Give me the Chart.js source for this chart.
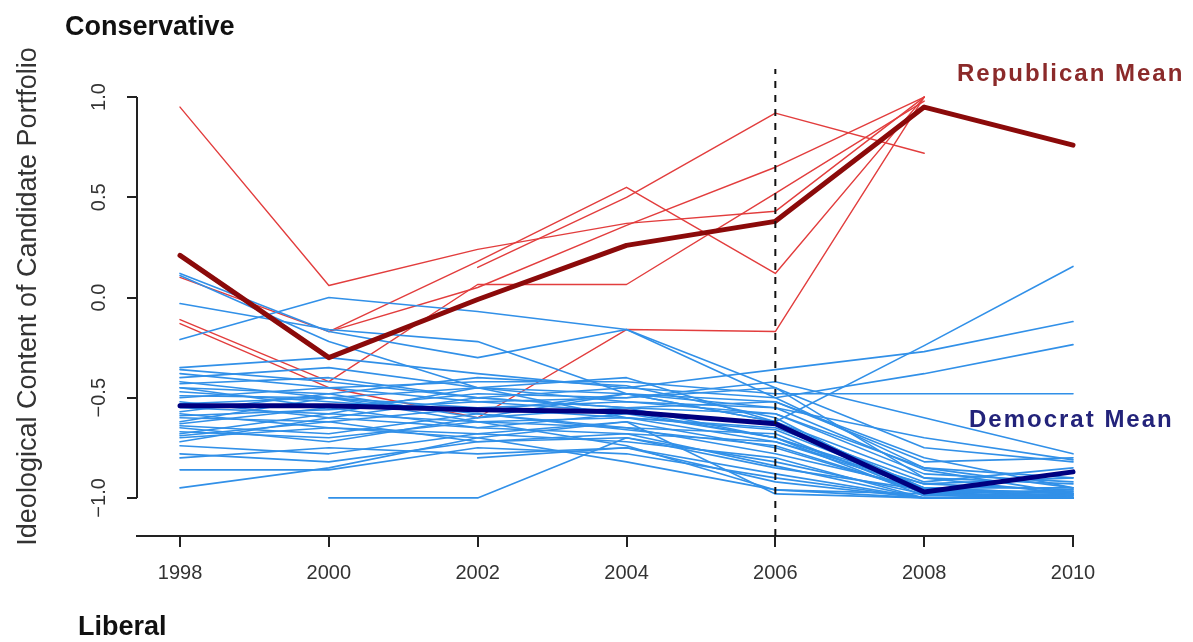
<!DOCTYPE html>
<html>
<head>
<meta charset="utf-8">
<script src="https://cdn.jsdelivr.net/npm/chart.js@4.4.1/dist/chart.umd.min.js"></script>
<style>
html,body{margin:0;padding:0;background:#fff;}
canvas{display:block;}
</style>
</head>
<body>
<canvas id="c" width="1193" height="642"></canvas>
<script>
// ---------- data ----------
const years = [1998, 2000, 2002, 2004, 2006, 2008, 2010];
const xTickValues = [1998, 2000, 2002, 2004, 2006, 2008, 2010];
const yTickValues = [-1, -0.5, 0, 0.5, 1];
const republicanMean = [0.21, -0.30, -0.01, 0.26, 0.38, 0.95, 0.76];
const democratMean = [-0.54, -0.54, -0.56, -0.57, -0.63, -0.97, -0.87];
const republicanCandidates = [
  [0.95, 0.06, 0.24, 0.37, 0.43, 1.00, null],
  [0.10, -0.17, 0.05, 0.36, 0.65, 1.00, null],
  [-0.11, -0.42, 0.065, 0.065, 0.52, 0.98, null],
  [-0.13, -0.45, -0.60, -0.16, -0.17, 1.00, null],
  [null, -0.17, 0.18, 0.55, 0.12, 1.00, null],
  [null, null, 0.15, 0.50, 0.92, 0.72, null]
];
const democratCandidates = [
  [0.12, -0.17, -0.30, -0.16, -0.45, -0.90, -0.98],
  [-0.21, 0.00, -0.07, -0.16, -0.50, -0.85, -0.95],
  [0.11, -0.22, -0.45, -0.60, -0.72, -0.95, -1.00],
  [-0.03, -0.16, -0.22, -0.48, -0.62, -0.95, -0.98],
  [-0.35, -0.30, -0.38, -0.45, -0.36, -0.27, -0.12],
  [-0.38, -0.45, -0.42, -0.42, -0.48, -0.48, -0.48],
  [-0.43, -0.40, -0.50, -0.45, -0.50, -0.38, -0.235],
  [-0.40, -0.35, -0.45, -0.40, -0.62, -0.24, 0.155],
  [-0.45, -0.55, -0.48, -0.50, -0.42, -0.60, -0.78],
  [-0.49, -0.50, -0.55, -0.52, -0.55, -0.70, -0.81],
  [-0.52, -0.60, -0.50, -0.55, -0.58, -0.85, -0.90],
  [-0.57, -0.48, -0.60, -0.48, -0.62, -0.90, -0.93],
  [-0.60, -0.62, -0.55, -0.60, -0.65, -0.92, -0.85],
  [-0.63, -0.55, -0.65, -0.58, -0.70, -0.95, -0.95],
  [-0.67, -0.70, -0.62, -0.65, -0.68, -0.98, -1.00],
  [-0.70, -0.65, -0.70, -0.62, -0.75, -0.97, -0.97],
  [-0.74, -0.78, -0.68, -0.72, -0.80, -1.00, -1.00],
  [-0.78, -0.82, -0.72, -0.70, -0.85, -0.96, -0.99],
  [-0.86, -0.86, -0.75, -0.78, -0.90, -1.00, -1.00],
  [-0.95, -0.85, -0.70, -0.82, -0.96, -1.00, -0.98],
  [null, -1.00, -1.00, -0.70, -0.82, -0.98, -0.96],
  [null, null, -0.80, -0.75, -0.88, -1.00, -1.00],
  [-0.50, -0.45, -0.52, -0.50, -0.45, -0.75, -0.82],
  [-0.55, -0.58, -0.45, -0.52, -0.58, -0.88, -0.92],
  [-0.62, -0.50, -0.58, -0.65, -0.78, -0.95, -0.98],
  [-0.65, -0.72, -0.60, -0.55, -0.52, -0.82, -0.80],
  [-0.72, -0.60, -0.65, -0.68, -0.72, -0.93, -0.90],
  [-0.80, -0.75, -0.78, -0.75, -0.92, -1.00, -1.00],
  [-0.45, -0.48, -0.40, -0.44, -0.60, -0.98, -0.99],
  [-0.58, -0.65, -0.68, -0.62, -0.98, -1.00, -1.00],
  [-0.68, -0.58, -0.62, -0.74, -0.96, -0.98, -1.00],
  [-0.42, -0.50, -0.45, -0.48, -0.52, -0.80, -0.95],
  [-0.47, -0.52, -0.57, -0.48, -0.55, -0.86, -0.98],
  [-0.53, -0.50, -0.62, -0.60, -0.66, -0.95, -1.00],
  [-0.59, -0.56, -0.52, -0.57, -0.70, -0.99, -0.97],
  [-0.64, -0.68, -0.58, -0.66, -0.74, -0.97, -1.00],
  [-0.69, -0.62, -0.72, -0.68, -0.84, -1.00, -0.99],
  [-0.36, -0.42, -0.50, -0.55, -0.70, -0.93, -0.96]
];
const cutoffYear = 2006;
const cutoffSpan = [-1.19, 1.14];

const topLabel = 'Conservative';
const bottomLabel = 'Liberal';
const yAxisTitle = 'Ideological Content of Candidate Portfolio';
const republicanLabel = 'Republican Mean';
const democratLabel = 'Democrat Mean';

// ---------- build ----------
const FONT = '"Liberation Sans", Arial, Helvetica, sans-serif';
const toPoints = arr => years.map((yr, i) => ({x: yr, y: arr[i]}));

function lineSet(arr, color, width, order) {
  return {
    data: toPoints(arr), borderColor: color, borderWidth: width,
    pointRadius: 0, tension: 0, fill: false, order: order,
    borderCapStyle: 'round', borderJoinStyle: 'round', spanGaps: false, clip: false
  };
}

const datasets = [];
datasets.push({
  data: [{x: cutoffYear, y: cutoffSpan[0]}, {x: cutoffYear, y: cutoffSpan[1]}],
  borderColor: '#111', borderWidth: 2, borderDash: [7, 7], pointRadius: 0,
  order: -1, clip: false, fill: false
});
datasets.push(lineSet(democratMean, '#000080', 5, 0));
datasets.push(lineSet(republicanMean, '#8b0a0a', 5, 0));
democratCandidates.forEach(a => datasets.push(lineSet(a, '#3190e8', 1.6, 1)));
republicanCandidates.forEach(a => datasets.push(lineSet(a, '#e23d3d', 1.4, 2)));

const decor = {
  id: 'decor',
  beforeDatasetsDraw(chart) {
    const {ctx, scales: {y}, chartArea} = chart;
    ctx.save();
    ctx.strokeStyle = '#222';
    ctx.lineWidth = 2;
    ctx.beginPath();
    ctx.moveTo(chartArea.left, y.getPixelForValue(yTickValues[yTickValues.length - 1]));
    ctx.lineTo(chartArea.left, y.getPixelForValue(yTickValues[0]));
    ctx.stroke();
    ctx.restore();
  },
  afterDraw(chart) {
    const ctx = chart.ctx;
    ctx.save();
    ctx.textAlign = 'left';
    ctx.textBaseline = 'alphabetic';
    ctx.fillStyle = '#111';
    ctx.font = 'bold 27px ' + FONT;
    ctx.fillText(topLabel, 65, 35);
    ctx.fillText(bottomLabel, 78, 635);
    ctx.font = 'bold 24px ' + FONT;
    try { ctx.letterSpacing = '2px'; } catch (e) {}
    ctx.fillStyle = '#8b2a2a';
    ctx.fillText(republicanLabel, 957, 81);
    ctx.fillStyle = '#23237a';
    ctx.fillText(democratLabel, 969, 427);
    ctx.restore();
  }
};

new Chart(document.getElementById('c'), {
  type: 'line',
  data: {datasets},
  plugins: [decor],
  options: {
    responsive: false,
    animation: false,
    devicePixelRatio: 1,
    layout: {padding: {left: 0, right: 120, top: 57, bottom: 0}},
    plugins: {legend: {display: false}, tooltip: {enabled: false}},
    scales: {
      x: {
        type: 'linear', min: 1997.422, max: 2010,
        afterBuildTicks: s => { s.ticks = xTickValues.map(v => ({value: v})); },
        afterFit: s => { s.height = 106; },
        grid: {display: true, drawOnChartArea: false, drawTicks: true, tickLength: 11, color: '#222', lineWidth: 2},
        border: {display: true, color: '#222', width: 2},
        ticks: {
          callback: v => String(v), autoSkip: false, maxRotation: 0, minRotation: 0,
          padding: 14, color: '#333', font: {family: FONT, size: 20}
        }
      },
      y: {
        type: 'linear', min: -1.19, max: 1.2,
        afterBuildTicks: s => { s.ticks = yTickValues.map(v => ({value: v})); },
        afterFit: s => { s.width = 137; },
        grid: {display: true, drawOnChartArea: false, drawTicks: true, tickLength: 10, color: '#222', lineWidth: 2},
        border: {display: false},
        title: {display: true, text: yAxisTitle, color: '#333', font: {family: FONT, size: 27}, padding: {top: 12, bottom: 0}},
        ticks: {
          callback: v => (v < 0 ? '\u2212' : '') + Math.abs(v).toFixed(1),
          minRotation: 90, maxRotation: 90, crossAlign: 'center',
          padding: 8, color: '#333', font: {family: FONT, size: 20}
        }
      }
    }
  }
});
</script>
</body>
</html>
